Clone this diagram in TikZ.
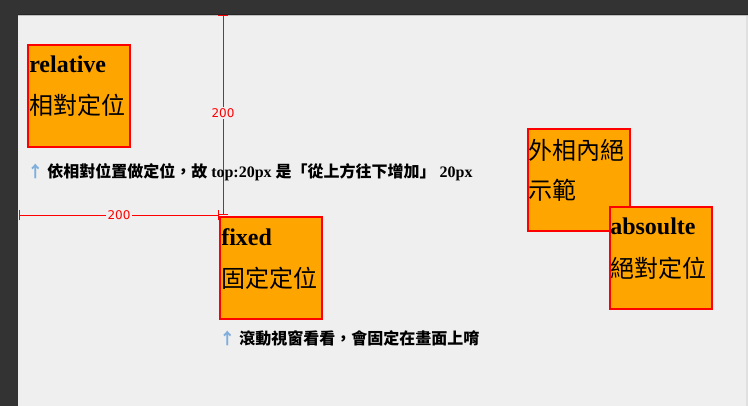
\documentclass[tikz,border=0pt]{standalone}
\usepackage{fontspec}
\setmainfont{Liberation Serif}
\newfontfamily\cjk{Noto Sans CJK TC}
\newfontfamily\rulerfont{DejaVu Sans}
\definecolor{pagebg}{HTML}{EFEFEF}
\definecolor{chrome}{HTML}{333333}
\definecolor{boxfill}{HTML}{FFA500}
\definecolor{boxline}{HTML}{FF0000}
\definecolor{arrowblue}{HTML}{7FAEDD}
\tikzset{
  posbox/.style={draw=boxline, fill=boxfill, line width=1.5pt, inner sep=0pt, minimum width=76.5pt, minimum height=76.5pt},
  lat/.style={anchor=base west, inner sep=0pt, font=\fontsize{18pt}{20pt}\selectfont\bfseries},
  zh/.style={anchor=base west, inner sep=0pt, font=\fontsize{18pt}{20pt}\selectfont\cjk},
  caption/.style={anchor=base west, inner sep=0pt, font=\fontsize{12pt}{14pt}\selectfont\bfseries},
  ruler/.style={draw=boxline, line width=0.75pt},
  rulerlabel/.style={fill=pagebg, text=boxline, inner sep=1pt, font=\fontsize{9pt}{10pt}\selectfont\rulerfont}
}
\newcommand{\uparr}{{\color{arrowblue}\cjk ↑}}
\begin{document}
\begin{tikzpicture}[x=0.75pt,y=-0.75pt]
\useasboundingbox (0,0) rectangle (748,406);
% page and window chrome
\fill[pagebg] (0,0) rectangle (748,406);
\fill[chrome] (0,0) rectangle (748,14);
\fill[chrome] (0,0) rectangle (18,406);
\fill[black!85] (18,14) rectangle (748,15);
\fill[black!25] (18,15) rectangle (748,16);
\fill[black!12] (746,16) rectangle (748,406);
% rulers
\coordinate (vtop) at (223,15.5);
\coordinate (vbot) at (223,214.5);
\coordinate (hleft) at (19.5,215);
\coordinate (hright) at (218,215);
\draw[ruler] (vtop) -- (vbot);
\draw[ruler] ([xshift=-3.5]vtop) -- ([xshift=3.5]vtop);
\draw[ruler] ([xshift=-3.5]vbot) -- ([xshift=3.5]vbot);
\draw[ruler] (hleft) -- (hright);
\draw[ruler] ([yshift=-4]hleft) -- ([yshift=4]hleft);
\draw[ruler] ([yshift=-4]hright) -- ([yshift=4]hright);
\node[rulerlabel] (vlab) at (223,113) {200};
\node[rulerlabel] (hlab) at (119,215) {200};
% relative box
\node[posbox, anchor=north west] (relbox) at (27,44) {};
\node[lat] (reltitle) at (29,73) {relative};
\node[zh] (relzh) at (29,115) {相對定位};
\node[caption] (relcap) at (27,177) {\uparr\ {\cjk 依相對位置做定位，故} top:20px {\cjk 是「從上方往下增加」} 20px};
% fixed box
\node[posbox, anchor=north west] (fixbox) at (219,216) {};
\node[lat] (fixtitle) at (221,245) {fixed};
\node[zh] (fixzh) at (221,287) {固定定位};
\node[caption] (fixcap) at (219,344) {\uparr\ {\cjk 滾動視窗看看，會固定在畫面上唷}};
% outer box
\node[posbox, anchor=north west] (outbox) at (527,128) {};
\node[zh] (outzh1) at (528,159) {外相內絕};
\node[zh] (outzh2) at (528,199) {示範};
% absolute box
\node[posbox, anchor=north west] (absbox) at (609,206) {};
\node[lat] (abstitle) at (610,234) {absoulte};
\node[zh] (abszh) at (610,277) {絕對定位};
\end{tikzpicture}
\end{document}
